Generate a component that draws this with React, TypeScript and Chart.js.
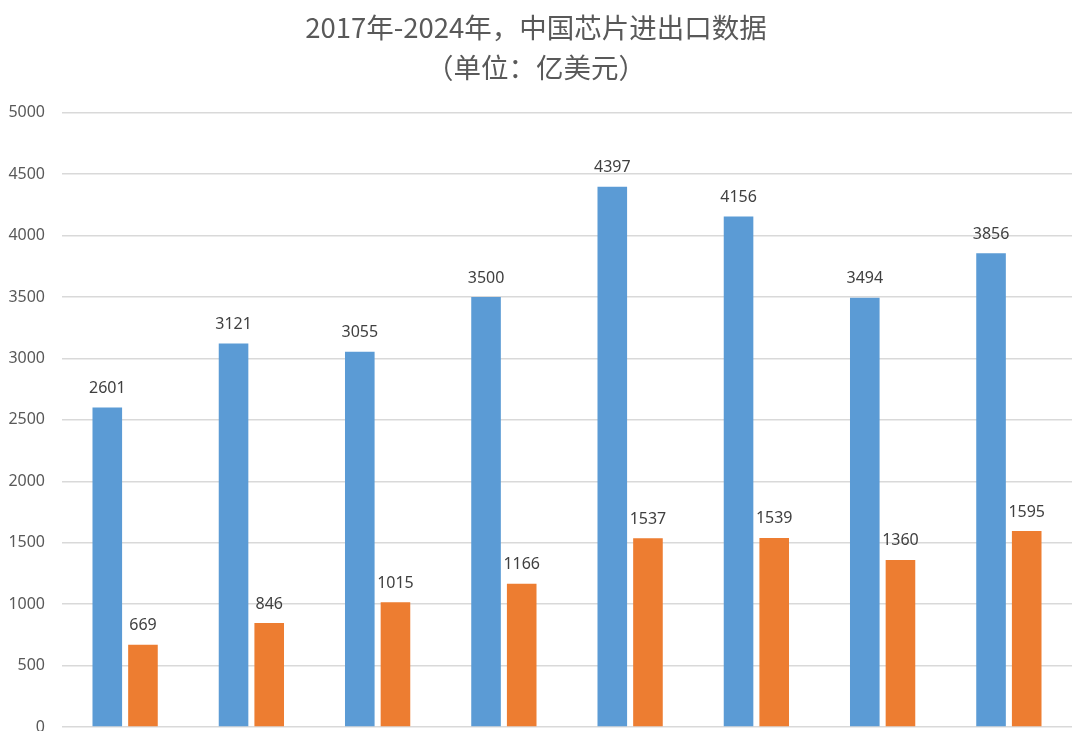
import React, { useEffect, useRef } from "react";
import { Chart, registerables } from "chart.js";

Chart.register(...registerables);

const years = ["2017", "2018", "2019", "2020", "2021", "2022", "2023", "2024"];
const importValues = [2601, 3121, 3055, 3500, 4397, 4156, 3494, 3856];
const exportValues = [669, 846, 1015, 1166, 1537, 1539, 1360, 1595];
const titleLines = ["2017年-2024年，中国芯片进出口数据", "（单位：亿美元）"];

const FONT = "'Noto Sans', 'Noto Sans CJK SC', sans-serif";

const valueLabels = {
  id: "valueLabels",
  afterDatasetsDraw(chart: any) {
    const ctx = chart.ctx;
    ctx.save();
    ctx.font = `16px ${FONT}`;
    ctx.fillStyle = "#404040";
    ctx.textAlign = "center";
    ctx.textBaseline = "bottom";
    chart.data.datasets.forEach((ds: any, i: number) => {
      const meta = chart.getDatasetMeta(i);
      meta.data.forEach((el: any, j: number) => {
        ctx.fillText(String(ds.data[j]), el.x, el.y - 11);
      });
    });
    ctx.restore();
  },
};

export default function App() {
  const ref = useRef<HTMLCanvasElement | null>(null);
  useEffect(() => {
    if (!ref.current) return;
    const chart = new Chart(ref.current, {
      type: "bar",
      data: {
        labels: years,
        datasets: [
          {
            label: "进口",
            data: importValues,
            backgroundColor: "#5B9BD5",
            categoryPercentage: 0.565,
            barPercentage: 0.83,
          },
          {
            label: "出口",
            data: exportValues,
            backgroundColor: "#ED7D31",
            categoryPercentage: 0.565,
            barPercentage: 0.83,
          },
        ],
      },
      options: {
        animation: false,
        responsive: true,
        maintainAspectRatio: false,
        layout: { padding: { left: 0, right: 18, top: 0, bottom: 4 } },
        plugins: {
          legend: { display: false },
          tooltip: { enabled: false },
          title: {
            display: true,
            text: titleLines,
            color: "#595959",
            font: { family: "'Noto Sans CJK SC', sans-serif", size: 27.5, weight: "normal", lineHeight: 1.45 },
            padding: { top: 8, bottom: 25 },
          },
        },
        scales: {
          x: { display: false },
          y: {
            min: 0,
            max: 5000,
            ticks: {
              stepSize: 500,
              color: "#595959",
              font: { family: FONT, size: 16 },
              padding: 17,
              callback: (v: any) => String(v),
            },
            grid: { color: "#d9d9d9", lineWidth: 1.5, drawTicks: false },
            border: { display: false },
            afterFit(s: any) {
              s.width = 62;
              s.paddingTop = 0;
              s.paddingBottom = 0;
            },
          },
        },
      },
      plugins: [valueLabels],
    });
    return () => chart.destroy();
  }, []);
  return (
    <div style={{ position: "fixed", left: 0, top: 0, width: 1090, height: 731, background: "#fff" }}>
      <canvas ref={ref} />
    </div>
  );
}
